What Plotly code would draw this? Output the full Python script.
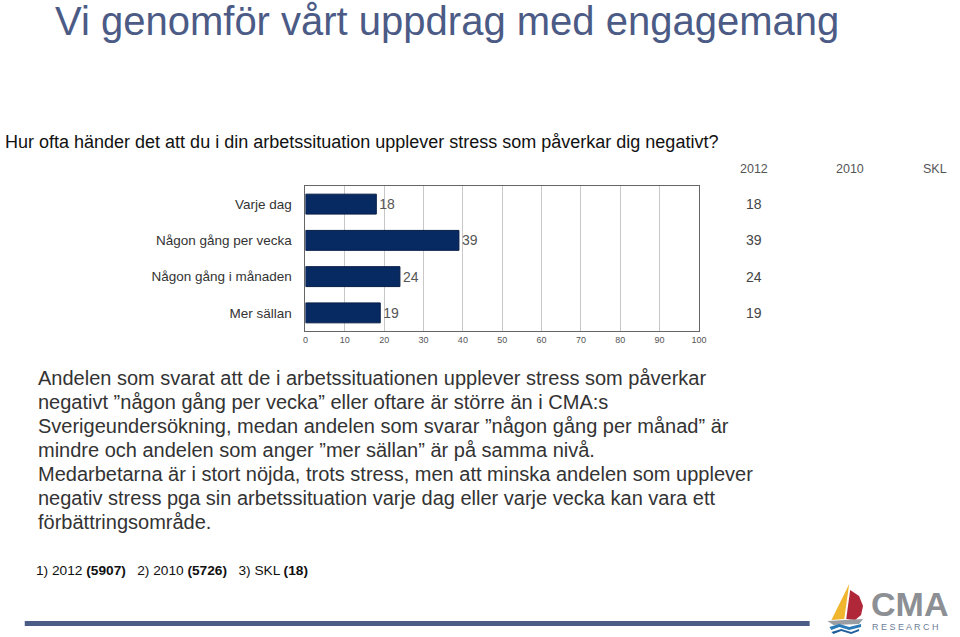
import plotly.graph_objects as go

W, H = 960, 637
categories = ["Varje dag", "Någon gång per vecka", "Någon gång i månaden", "Mer sällan"]
values_2012 = [18, 39, 24, 19]
col_headers = ["2012", "2010", "SKL"]
x_ticks = [0, 10, 20, 30, 40, 50, 60, 70, 80, 90, 100]

slide_title = "Vi genomför vårt uppdrag med engagemang"
question = "Hur ofta händer det att du i din arbetssituation upplever stress som påverkar dig negativt?"
body_lines = [
    "Andelen som svarat att de i arbetssituationen upplever stress som påverkar",
    "negativt ”någon gång per vecka” eller oftare är större än i CMA:s",
    "Sverigeundersökning, medan andelen som svarar ”någon gång per månad” är",
    "mindre och andelen som anger ”mer sällan” är på samma nivå.",
    "Medarbetarna är i stort nöjda, trots stress, men att minska andelen som upplever",
    "negativ stress pga sin arbetssituation varje dag eller varje vecka kan vara ett",
    "förbättringsområde.",
]
footnote = "1) 2012 <b>(5907)</b>   2) 2010 <b>(5726)</b>   3) SKL <b>(18)</b>"

FONT = "Liberation Sans, Arial, sans-serif"

def px(x):
    return x / W

def py(y):
    return 1 - y / H

fig = go.Figure()
fig.add_trace(go.Bar(
    y=categories, x=values_2012, orientation="h",
    marker=dict(color="#082a63", line=dict(color="#061d45", width=1)),
    text=[str(v) for v in values_2012], textposition="outside",
    textfont=dict(family=FONT, size=14, color="#555555"),
    cliponaxis=False, width=0.55, hoverinfo="skip",
))

fig.update_layout(
    width=W, height=H, margin=dict(l=0, r=0, t=0, b=0),
    paper_bgcolor="white", plot_bgcolor="white", showlegend=False,
    xaxis=dict(domain=[px(306), px(704)], range=[0, 100], tickvals=x_ticks,
               showgrid=True, gridcolor="#c8c8c8", gridwidth=1,
               showline=True, linecolor="#666666", linewidth=1, mirror=True,
               tickfont=dict(family=FONT, size=9, color="#555555"),
               zeroline=False, ticks="", fixedrange=True),
    yaxis=dict(domain=[py(331), py(186)], autorange="reversed",
               showline=True, linecolor="#666666", linewidth=1, mirror=True,
               tickfont=dict(family=FONT, size=13.5, color="#333333"),
               ticklabelstandoff=10, ticks="", showgrid=False, fixedrange=True),
)

ann = []
ann.append(dict(x=px(51), y=py(21), xref="paper", yref="paper", xanchor="left", yanchor="middle",
                text=slide_title, showarrow=False,
                font=dict(family=FONT, size=40, color="#4b5b86")))
ann.append(dict(x=px(0), y=py(142), xref="paper", yref="paper", xanchor="left", yanchor="middle",
                text=question, showarrow=False,
                font=dict(family=FONT, size=18, color="#111111")))
header_x = [760, 857, 957]
header_anchor = ["center", "center", "right"]
for i, h in enumerate(col_headers):
    ann.append(dict(x=px(header_x[i]), y=py(169), xref="paper", yref="paper",
                    xanchor=header_anchor[i], yanchor="middle", text=h, showarrow=False,
                    font=dict(family=FONT, size=12.5, color="#555555")))
for c, v in zip(categories, values_2012):
    ann.append(dict(x=px(760), y=c, xref="paper", yref="y", xanchor="center", yanchor="middle",
                    text=str(v), showarrow=False,
                    font=dict(family=FONT, size=14, color="#444444")))
for i, line in enumerate(body_lines):
    ann.append(dict(x=px(33), y=py(378 + 24 * i), xref="paper", yref="paper",
                    xanchor="left", yanchor="middle", text=line, showarrow=False,
                    font=dict(family=FONT, size=20, color="#333333")))
ann.append(dict(x=px(31), y=py(570), xref="paper", yref="paper", xanchor="left", yanchor="middle",
                text=footnote, showarrow=False,
                font=dict(family=FONT, size=13.7, color="#111111")))
# logo text
ann.append(dict(x=px(876), y=py(604), xref="paper", yref="paper", xanchor="left", yanchor="middle",
                text="<b>CMA</b>", showarrow=False,
                font=dict(family=FONT, size=34, color="#8c8f94")))
ann.append(dict(x=px(877), y=py(627), xref="paper", yref="paper", xanchor="left", yanchor="middle",
                text="R E S E A R C H", showarrow=False,
                font=dict(family=FONT, size=9, color="#6d7d97")))
fig.update_layout(annotations=ann)

shapes = []
# bottom rule
shapes.append(dict(type="rect", xref="paper", yref="paper", x0=px(22), x1=px(816),
                   y0=py(626), y1=py(621), fillcolor="#4b5d86", line=dict(width=0)))

def path(points):
    return "M " + " L ".join(f"{px(x)},{py(y)}" for x, y in points) + " Z"

# yellow sail
shapes.append(dict(type="path", xref="paper", yref="paper",
                   path=path([(856, 584), (838, 620), (851, 619)]),
                   fillcolor="#efb62e", line=dict(width=0)))
# red sail
shapes.append(dict(type="path", xref="paper", yref="paper",
                   path=path([(857, 590), (866, 596), (870, 606), (868, 615), (862, 620), (853, 619)]),
                   fillcolor="#b0273a", line=dict(width=0)))
# grey hull
shapes.append(dict(type="path", xref="paper", yref="paper",
                   path=path([(834, 621), (870, 619), (866, 624), (840, 625)]),
                   fillcolor="#9a9da2", line=dict(width=0)))
# waves
shapes.append(dict(type="path", xref="paper", yref="paper",
                   path=path([(836, 627), (846, 624), (856, 627), (868, 624), (868, 627), (856, 630), (846, 627), (838, 630)]),
                   fillcolor="#2a7ab8", line=dict(width=0)))
shapes.append(dict(type="path", xref="paper", yref="paper",
                   path=path([(838, 632), (848, 629), (858, 632), (866, 629), (866, 631), (858, 634), (848, 631), (840, 634)]),
                   fillcolor="#1f5f9c", line=dict(width=0)))
fig.update_layout(shapes=shapes)

fig.write_html("out.html", config={"displayModeBar": False},
               post_script="document.body.style.margin='0';document.body.style.overflow='hidden';")
